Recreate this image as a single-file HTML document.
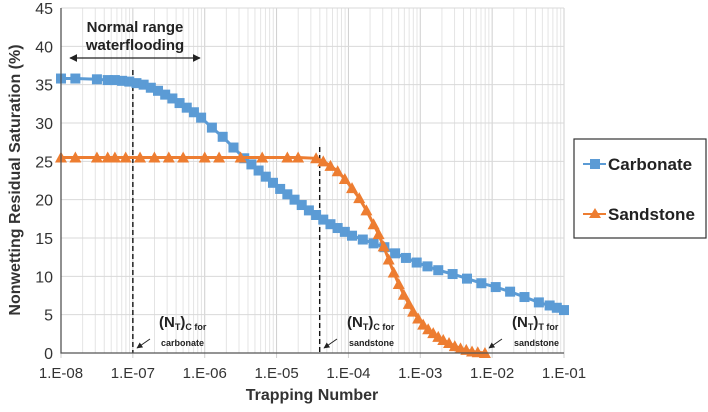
<!DOCTYPE html>
<html><head><meta charset="utf-8"><style>
body{margin:0;background:#fff;}
svg text{font-family:"Liberation Sans",Arial,sans-serif;}
</style></head><body>
<svg id="chart" width="708" height="407" viewBox="0 0 708 407" xmlns="http://www.w3.org/2000/svg">
<g id="grid"></g>
<g id="annot"></g>
<g id="series"></g>
<g id="axes"></g>
<text transform="translate(20,180) rotate(-90)" text-anchor="middle" font-size="16" font-weight="bold" fill="#333">Nonwetting Residual Saturation (%)</text>
<text x="312" y="400" text-anchor="middle" font-size="16" font-weight="bold" fill="#333">Trapping Number</text>
<g>
<rect x="574" y="139" width="132" height="99" fill="#fff" stroke="#333" stroke-width="1.2"/>
<g>
<line x1="583" y1="164" x2="606" y2="164" stroke="#5b9bd5" stroke-width="2"/>
<rect x="590" y="159" width="10" height="10" fill="#5b9bd5"/>
<text x="608" y="170" font-size="17" font-weight="bold" fill="#222">Carbonate</text></g>
<g>
<line x1="583" y1="214" x2="606" y2="214" stroke="#ed7d31" stroke-width="2"/>
<polygon points="595,208 601,218 589,218" fill="#ed7d31"/>
<text x="608" y="220" font-size="17" font-weight="bold" fill="#222">Sandstone</text></g>
</g>
</svg>
<script>
const xTickLabels=["1.E-08","1.E-07","1.E-06","1.E-05","1.E-04","1.E-03","1.E-02","1.E-01"];
const yTickLabels=[0,5,10,15,20,25,30,35,40,45];
const carbLogX=[-8,-7.8,-7.5,-7.35,-7.25,-7.15,-7.05,-6.95,-6.85,-6.75,-6.65,-6.55,-6.45,-6.35,-6.25,-6.15,-6.05,-5.9,-5.75,-5.6,-5.45,-5.35,-5.25,-5.15,-5.05,-4.95,-4.85,-4.75,-4.65,-4.55,-4.45,-4.35,-4.25,-4.15,-4.05,-3.95,-3.8,-3.65,-3.5,-3.35,-3.2,-3.05,-2.9,-2.75,-2.55,-2.35,-2.15,-1.95,-1.75,-1.55,-1.35,-1.2,-1.1,-1.0];
const carbValues=[35.8,35.8,35.7,35.6,35.6,35.5,35.4,35.2,35.0,34.6,34.2,33.7,33.2,32.6,32.0,31.4,30.7,29.4,28.2,26.8,25.4,24.6,23.8,23.0,22.2,21.4,20.7,20.0,19.3,18.6,18.0,17.4,16.8,16.3,15.8,15.3,14.8,14.3,13.8,13.0,12.4,11.8,11.3,10.8,10.3,9.7,9.1,8.6,8.0,7.3,6.6,6.2,5.9,5.6];
const sandLogX=[-8,-7.8,-7.5,-7.35,-7.25,-7.1,-6.9,-6.7,-6.5,-6.3,-6.0,-5.8,-5.5,-5.2,-4.85,-4.7,-4.45,-4.35,-4.25,-4.15,-4.05,-3.95,-3.85,-3.75,-3.65,-3.58,-3.51,-3.44,-3.37,-3.3,-3.23,-3.16,-3.1,-3.03,-2.96,-2.89,-2.82,-2.75,-2.68,-2.6,-2.52,-2.44,-2.36,-2.28,-2.2,-2.1];
const sandValues=[25.5,25.5,25.5,25.5,25.5,25.5,25.5,25.5,25.5,25.5,25.5,25.5,25.5,25.5,25.5,25.5,25.4,25.0,24.4,23.7,22.7,21.5,20.2,18.6,16.8,15.5,13.9,12.2,10.5,9.0,7.6,6.4,5.4,4.5,3.7,3.1,2.6,2.1,1.7,1.3,0.9,0.6,0.4,0.2,0.1,0];
const criticalLogX=[-7,-4.4];

const X0=61,X1=564,Y0=353,Y1=8;
const xs=l=>X0+(l+8)/7*(X1-X0);
const ys=v=>Y0-v/45*(Y0-Y1);
const NS="http://www.w3.org/2000/svg";
function mk(tag,attrs,parent,txt){const e=document.createElementNS(NS,tag);for(const k in attrs)e.setAttribute(k,attrs[k]);if(txt!==undefined)e.textContent=txt;parent.appendChild(e);return e;}
const grid=document.getElementById('grid'),axes=document.getElementById('axes'),ser=document.getElementById('series'),ann=document.getElementById('annot');
for(let d=-8;d<-1;d++){for(let m=2;m<10;m++){const x=xs(d+Math.log10(m));const g=mk('line',{x1:x,x2:x,y1:Y1,y2:Y0,stroke:'#e4e4e4','stroke-width':1},grid);

}}
xTickLabels.forEach((t,i)=>{const x=xs(-8+i);
const g=mk('line',{x1:x,x2:x,y1:Y1,y2:Y0+5,stroke:'#cfcfcf','stroke-width':1},grid);


const tl=mk('text',{x:x,y:Y0+25,'text-anchor':'middle','font-size':15,fill:'#333'},axes,t);

});
yTickLabels.forEach(v=>{const y=ys(v);
if(v>0){const g=mk('line',{x1:X0,x2:X1,y1:y,y2:y,stroke:'#d9d9d9','stroke-width':1},grid);

}
const tl=mk('text',{x:X0-8,y:y+6,'text-anchor':'end','font-size':16,fill:'#333'},axes,v);

});
const ax=mk('path',{d:`M${X0},${Y1}V${Y0}H${X1}`,stroke:'#555','stroke-width':1.3,fill:'none'},axes);



criticalLogX.forEach((l,i)=>{const x=xs(l);const dl=mk('line',{x1:x,x2:x,y1:i==0?70:147,y2:Y0,stroke:'#111','stroke-width':1.4,'stroke-dasharray':'5,3'},ann);

});
mk('defs',{},ann).innerHTML='<marker id="ah" viewBox="0 0 10 10" refX="9" refY="5" markerWidth="6" markerHeight="6" orient="auto-start-reverse"><path d="M0,0L10,5L0,10z" fill="#222"/></marker>';
const ra=mk('line',{x1:70,y1:58,x2:200,y2:58,stroke:'#222','stroke-width':1.3,'marker-start':'url(#ah)','marker-end':'url(#ah)'},ann);


const t1=mk('text',{x:135,y:32,'text-anchor':'middle','font-size':15,'font-weight':'bold',fill:'#222'},ann,'Normal range');


const t2=mk('text',{x:135,y:50,'text-anchor':'middle','font-size':15,'font-weight':'bold',fill:'#222'},ann,'waterflooding');


const notes=[[159,'C','carbonate',137],[347,'C','sandstone',324],[512,'T','sandstone',489]];
notes.forEach(n=>{const g=mk('g',{},ann);


mk('text',{x:n[0],y:327,'font-size':15,'font-weight':'bold',fill:'#222'},g).innerHTML=`(N<tspan font-size="9" dy="3">T</tspan><tspan dy="-3">)</tspan><tspan font-size="9" dy="3">${n[1]} for</tspan>`;
mk('text',{x:n[0]+2,y:346,'font-size':9,'font-weight':'bold',fill:'#222'},g,n[2]);
mk('line',{x1:n[3]+13,y1:339,x2:n[3],y2:348,stroke:'#222','stroke-width':1,'marker-end':'url(#ah)'},g);});

function series(lx,vals,color,shape,name){
const g=mk('g',{},ser);


const d=lx.map((l,i)=>(i?'L':'M')+xs(l).toFixed(1)+','+ys(vals[i]).toFixed(1)).join('');
mk('path',{d:d,stroke:color,'stroke-width':3,fill:'none'},g);
lx.forEach((l,i)=>{const x=xs(l),y=ys(vals[i]);let m;
if(shape=='sq')m=mk('rect',{x:x-5,y:y-5,width:10,height:10,fill:color},g);
else m=mk('polygon',{points:`${x},${y-6} ${x+6},${y+5} ${x-6},${y+5}`,fill:color},g);

});}
series(carbLogX,carbValues,'#5b9bd5','sq','carbonate');
series(sandLogX,sandValues,'#ed7d31','tri','sandstone');
</script>
</body></html>
